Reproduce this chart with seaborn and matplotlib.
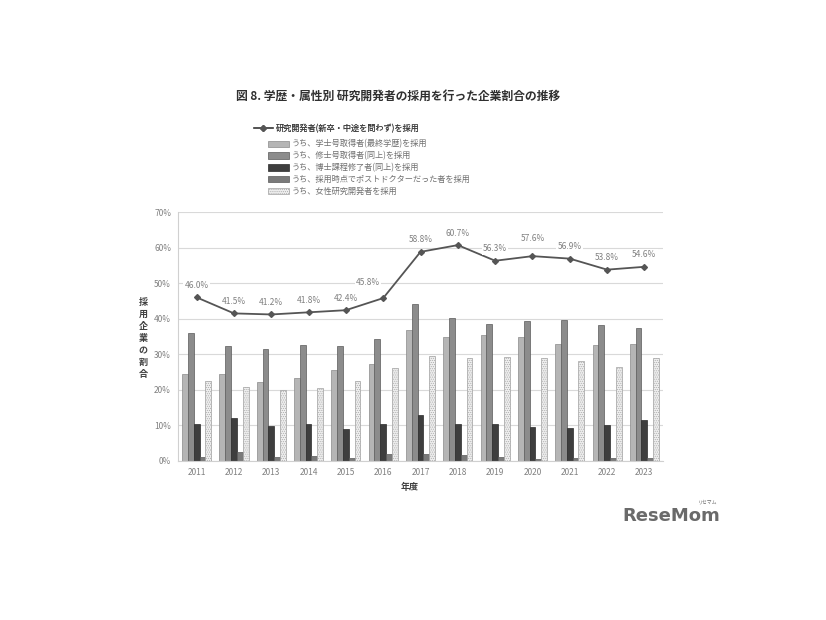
import matplotlib
matplotlib.use("Agg")
import matplotlib.pyplot as plt
import seaborn as sns
import pandas as pd
from matplotlib.lines import Line2D
from matplotlib.patches import Patch
from matplotlib.ticker import FuncFormatter

# data (percent)
years = [str(y) for y in range(2011, 2024)]
all_rd = [46.0, 41.5, 41.2, 41.8, 42.4, 45.8, 58.8, 60.7, 56.3, 57.6, 56.9, 53.8, 54.6]
bachelor = [24.4, 24.4, 22.2, 23.4, 25.5, 27.2, 36.8, 35.0, 35.3, 34.8, 33.0, 32.5, 32.9]
master = [36.0, 32.3, 31.5, 32.7, 32.2, 34.2, 44.1, 40.3, 38.5, 39.3, 39.7, 38.3, 37.4]
doctor = [10.3, 12.1, 9.7, 10.3, 9.1, 10.3, 13.0, 10.3, 10.3, 9.6, 9.2, 10.0, 11.4]
postdoc = [1.1, 2.4, 1.1, 1.5, 0.9, 1.9, 2.1, 1.6, 1.0, 0.6, 0.8, 0.9, 0.8]
female = [22.6, 20.8, 19.9, 20.5, 22.6, 26.2, 29.6, 29.0, 29.1, 28.9, 28.2, 26.4, 29.0]

line_label = "研究開発者(新卒・中途を問わず)を採用"
bar_labels = [
    "うち、学士号取得者(最終学歴)を採用",
    "うち、修士号取得者(同上)を採用",
    "うち、博士課程修了者(同上)を採用",
    "うち、採用時点でポストドクターだった者を採用",
    "うち、女性研究開発者を採用",
]
bar_values = [bachelor, master, doctor, postdoc, female]

fills = ["#b5b5b5", "#8c8c8c", "#3e3e3e", "#7a7a7a", "#eeeeee"]
edges = ["#8a8a8a", "#5a5a5a", "#2a2a2a", "#5a5a5a", "#a0a0a0"]

sns.set_style("white")
plt.rcParams["font.family"] = ["Noto Sans CJK JP", "DejaVu Sans"]
plt.rcParams["hatch.linewidth"] = 0.4

df = pd.DataFrame({
    "year": years * len(bar_labels),
    "series": [lab for lab in bar_labels for _ in years],
    "value": [v for vals in bar_values for v in vals],
})

fig = plt.figure(figsize=(8.26, 6.2), dpi=100)
ax = fig.add_axes([0.2155, 0.2565, 0.5872, 0.4015])

sns.barplot(data=df, x="year", y="value", hue="series", hue_order=bar_labels,
            palette=fills, width=0.78, gap=0, saturation=1, linewidth=0.5,
            legend=False, ax=ax)
for i, (cont, ec) in enumerate(zip(ax.containers, edges)):
    for p in cont:
        p.set_edgecolor(ec)
        if i == 4:
            p.set_hatch("........")

sns.pointplot(x=years, y=all_rd, color="#555555", markers="D", markersize=3,
              linewidth=1.3, errorbar=None, ax=ax)

# data labels on the line
for i, v in enumerate(all_rd):
    dx, dy = 0, 8.6
    if years[i] == "2016":
        dx, dy = -11, 11.5
    if years[i] == "2020":
        dy = 13
    ax.annotate(f"{v:.1f}%", (i, v), xytext=(dx, dy), textcoords="offset points",
                ha="center", va="center", fontsize=6, color="#808080",
                bbox=dict(boxstyle="square,pad=0.15", fc="white", ec="none"))

ax.set_xlim(-0.5, 12.5)
ax.set_ylim(0, 70)
ax.set_yticks(range(0, 71, 10))
ax.yaxis.set_major_formatter(FuncFormatter(lambda v, _: f"{v:.0f}%"))
ax.yaxis.grid(True, color="#d9d9d9", linewidth=0.8)
ax.set_axisbelow(True)
ax.set_xlabel("")
ax.set_ylabel("")
for s in ["top", "right"]:
    ax.spines[s].set_visible(False)
for s in ["left", "bottom"]:
    ax.spines[s].set_color("#d0d0d0")
    ax.spines[s].set_linewidth(0.8)
ax.tick_params(length=0, labelsize=6, labelcolor="#808080", pad=5)

# axis titles
fig.text(0.173, 0.454, "\n".join("採用企業の割合"), ha="center", va="center",
         fontsize=6.5, fontweight="bold", color="#404040", linespacing=1.45)
fig.text(0.496, 0.2145, "年度", ha="center", va="center", fontsize=6.5,
         fontweight="bold", color="#404040")

# title
fig.text(0.482, 0.844, "図 8. 学歴・属性別 研究開発者の採用を行った企業割合の推移",
         ha="center", va="center", fontsize=8.5, fontweight="bold", color="#303030")

# legends
h_line = [Line2D([0], [0], color="#555555", marker="D", markersize=3, linewidth=1.3)]
leg1 = fig.legend(h_line, [line_label], loc="upper left", bbox_to_anchor=(0.307, 0.800),
                  frameon=False, fontsize=5.9, handlelength=2.4, handletextpad=0.3,
                  borderpad=0, borderaxespad=0, labelcolor="#404040")
h_bars = [Patch(facecolor=f, edgecolor=e, hatch="........" if i == 4 else None, linewidth=0.5)
          for i, (f, e) in enumerate(zip(fills, edges))]
fig.legend(h_bars, bar_labels, loc="upper left", bbox_to_anchor=(0.325, 0.775),
           frameon=False, fontsize=5.9, handlelength=2.5, handleheight=0.8,
           handletextpad=0.3, labelspacing=0.33, borderpad=0, borderaxespad=0,
           labelcolor="#707070")
fig.add_artist(leg1)

# watermark
fig.text(0.753, 0.168, "ReseMom", ha="left", va="center", fontsize=13,
         fontweight="bold", color="#6a6a6a", family="DejaVu Sans")
fig.text(0.857, 0.19, "リセマム", ha="center", va="center", fontsize=3.5, color="#6a6a6a")

fig.savefig("out.png", dpi=100)
